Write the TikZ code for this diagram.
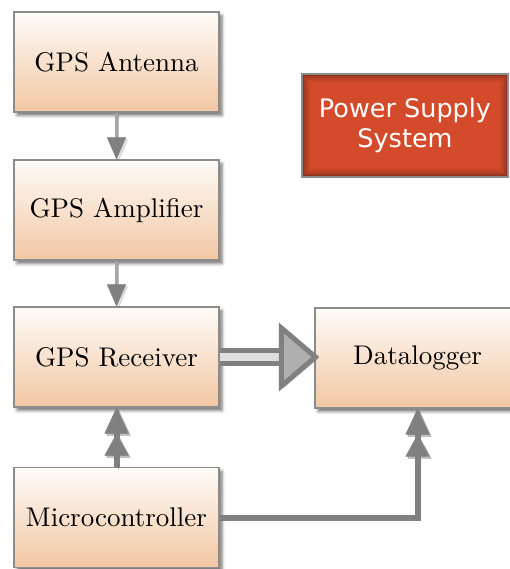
\documentclass[tikz,border=0pt]{standalone}
\usepackage{fontspec}
\newfontfamily\psfont{DejaVu Sans}
\usetikzlibrary{arrows.meta,shadows,shadows.blur,calc}

\definecolor{peachlow}{RGB}{242,199,163}
\definecolor{peachtop}{RGB}{254,251,248}
\definecolor{boxline}{RGB}{140,140,140}
\definecolor{arrowgray}{RGB}{128,128,128}
\definecolor{arrowlight}{RGB}{222,222,222}
\definecolor{headfill}{RGB}{175,175,175}
\definecolor{powerred}{RGB}{211,75,43}

% block captions: Latin Modern 10pt design, enlarged
\newcommand{\blocklabel}[1]{\scalebox{2.7}{#1}}

\begin{document}
\begin{tikzpicture}[x=1pt,y=-1pt,
  block/.style={rectangle, draw=boxline, line width=1.1pt,
    top color=peachtop, bottom color=peachlow,
    minimum width=205pt, minimum height=100pt, inner sep=0pt,
    font=\fontsize{10}{12}\selectfont, text=black,
    blur shadow={shadow xshift=3pt, shadow yshift=-3.5pt,
      shadow blur radius=3pt, shadow opacity=55}},
  powerbox/.style={rectangle, draw=boxline, line width=1.1pt, fill=powerred,
    minimum width=206pt, minimum height=103pt, inner sep=0pt,
    text=white, align=center, font=\psfont\fontsize{25.5}{30.5}\selectfont,
    path picture={
      \foreach \i/\o in {1/.32,3/.2,5/.12,7/.06}
        \draw[black, opacity=\o, line width=2pt]
          ([shift={(\i pt,-\i pt)}]path picture bounding box.north west) rectangle
          ([shift={(-\i pt,\i pt)}]path picture bounding box.south east);}},
  conshadow/.style={preaction={draw=black, opacity=.25,
      transform canvas={shift={(2pt,-2pt)}}}},
  thinarrow/.style={draw=arrowgray!70, line width=3pt, conshadow,
    -{Triangle[width=19pt,length=22pt,line width=0.5pt,fill=arrowgray,color=arrowgray]}},
  thickarrow/.style={draw=arrowgray, line width=6pt, conshadow,
    -{Triangle[width=24pt,length=22pt,line width=0.5pt,sep=0pt]
      Triangle[width=24pt,length=26pt,line width=0.5pt]}},
  dblline/.style={draw=arrowgray, double=arrowlight, double distance=8pt,
    line width=5pt, conshadow},
  bighead/.style={draw=arrowgray, fill=headfill, line width=5pt,
    line join=miter, conshadow}
]
\useasboundingbox (0,0) rectangle (510,569);
\clip (0,0) rectangle (510,569);

% blocks
\node[block] (ant) at (116.5,62)    {\blocklabel{GPS Antenna}};
\node[block] (amp) at (116.5,210)   {\blocklabel{GPS Amplifier}};
\node[block] (rx)  at (116.5,357)   {\blocklabel{GPS Receiver}};
\node[block] (mc)  at (116.5,517.5) {\blocklabel{Microcontroller}};
\node[block] (dl)  at (417.5,358)   {\blocklabel{Datalogger}};
\node[powerbox] (ps) at (405,125.5) {Power Supply\\System};

% connectors
\draw[thinarrow] (ant) -- (amp);
\draw[thinarrow] (amp) -- (rx);

% receiver to datalogger: double line with an open, tinted head
\coordinate (tip) at ($(rx.east -| dl.west)+(1,0)$);
\draw[dblline] (rx.east) -- ($(tip)+(-14,0)$);
\draw[bighead] (tip) -- ++(-34,-29) -- ++(0,58) -- cycle;

\draw[thickarrow] (mc) -- (rx);
\draw[thickarrow] (mc.east) -| (dl.south);
\end{tikzpicture}
\end{document}
